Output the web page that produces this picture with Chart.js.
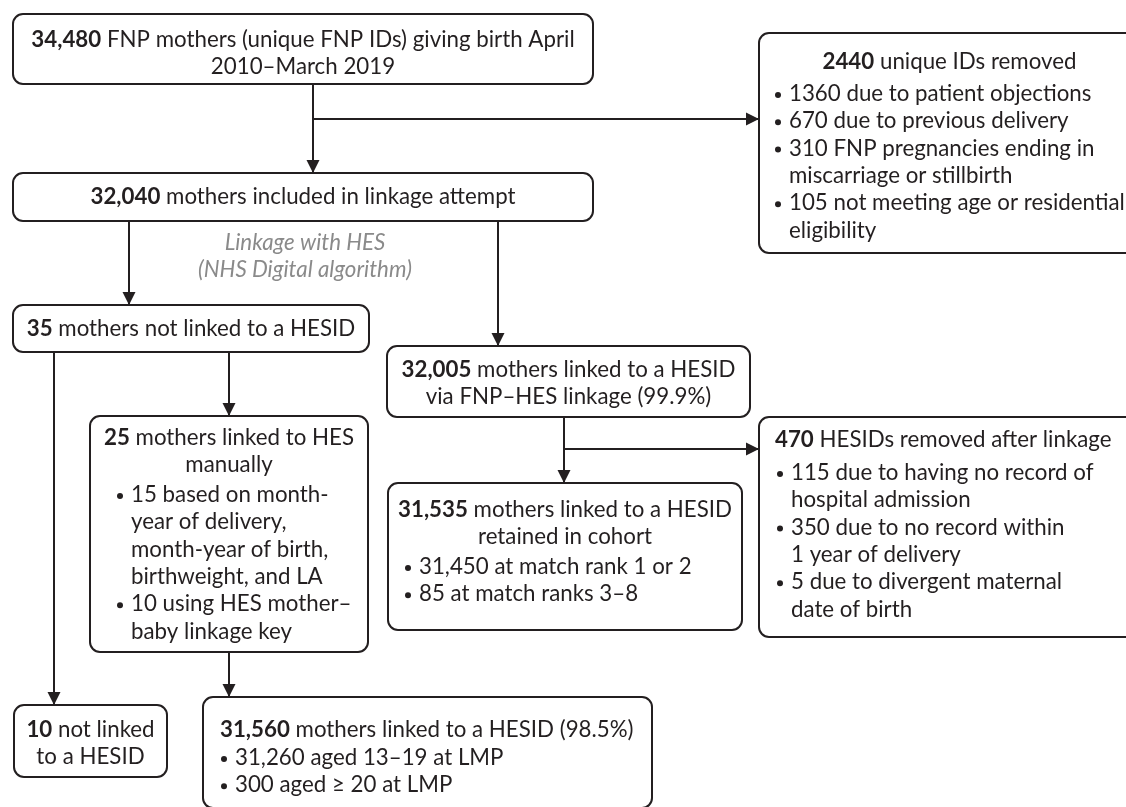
<!DOCTYPE html>
<html>
<head>
<meta charset="utf-8">
<title>FNP–HES linkage flow</title>
<script src="https://cdn.jsdelivr.net/npm/chart.js@4.4.1/dist/chart.umd.min.js"></script>
<style>
  html, body { margin: 0; padding: 0; background: #ffffff; }
  #wrap { width: 1126px; height: 807px; position: relative; }
</style>
</head>
<body>
<div id="wrap"><canvas id="flowChart"></canvas></div>
<script>
// Bold counts at the start of each box
const boxCounts = ['34,480', '2440', '32,040', '35', '32,005', '25', '31,535', '470', '10', '31,560'];

// Heading text following the count (one entry per printed line)
const boxHeads = [
    [' FNP mothers (unique FNP IDs) giving birth April', '2010–March 2019'],
    [' unique IDs removed'],
    [' mothers included in linkage attempt'],
    [' mothers not linked to a HESID'],
    [' mothers linked to a HESID', 'via FNP–HES linkage (99.9%)'],
    [' mothers linked to HES', 'manually'],
    [' mothers linked to a HESID', 'retained in cohort'],
    [' HESIDs removed after linkage'],
    [' not linked', 'to a HESID'],
    [' mothers linked to a HESID (98.5%)']
];

// Bullet items per box (each item may wrap over several lines)
const boxBullets = [
    [],
    [['1360 due to patient objections'], ['670 due to previous delivery'],
     ['310 FNP pregnancies ending in', 'miscarriage or stillbirth'],
     ['105 not meeting age or residential', 'eligibility']],
    [],
    [],
    [],
    [['15 based on month-', 'year of delivery,', 'month-year of birth,', 'birthweight, and LA'],
     ['10 using HES mother–', 'baby linkage key']],
    [['31,450 at match rank 1 or 2'], ['85 at match ranks 3–8']],
    [['115 due to having no record of', 'hospital admission'],
     ['350 due to no record within', '1 year of delivery'],
     ['5 due to divergent maternal', 'date of birth']],
    [],
    [['31,260 aged 13–19 at LMP'], ['300 aged ≥ 20 at LMP']]
];

const linkageNote = ['Linkage with HES', '(NHS Digital algorithm)'];

// Layout in chart units: rect [x0, y0, x1, y1], heading alignment, first line y, bullet text x
const boxLayout = [
    { rect: [13, 14, 593, 84],    align: 'center', y: 40 },
    { rect: [759, 33, 1140, 253], align: 'center', y: 62,  bx: 789, by: 94 },
    { rect: [13, 173, 593, 221],  align: 'center', y: 197 },
    { rect: [13, 305, 369, 352],  align: 'center', y: 329 },
    { rect: [387, 346, 750, 417], align: 'center', y: 370 },
    { rect: [90, 416, 368, 652],  align: 'center', y: 438, bx: 131, by: 495 },
    { rect: [388, 483, 742, 630], align: 'center', y: 510, bx: 419, by: 567 },
    { rect: [759, 417, 1140, 637], align: 'left', x: 775, y: 440, bx: 791, by: 473 },
    { rect: [14, 705, 167, 777],  align: 'center', y: 730 },
    { rect: [203, 697, 652, 808], align: 'left', x: 220, y: 730, bx: 235, by: 758 }
];

// Connectors: polyline points, arrow at the last point
const connectors = [
    [[313, 84], [313, 173]],
    [[313, 119], [759, 119]],
    [[129, 221], [129, 305]],
    [[498, 221], [498, 346]],
    [[229, 352], [229, 416]],
    [[54, 352], [54, 705]],
    [[564, 417], [564, 483]],
    [[564, 449], [759, 449]],
    [[229, 652], [229, 697]]
];

const INK = '#231f20';
const FONT = 'Lato, "Open Sans", sans-serif';
const SIZE = 22.3;
const LINE = 27.3;

function roundRect(ctx, x0, y0, x1, y1, r) {
    ctx.beginPath();
    ctx.moveTo(x0 + r, y0);
    ctx.arcTo(x1, y0, x1, y1, r);
    ctx.arcTo(x1, y1, x0, y1, r);
    ctx.arcTo(x0, y1, x0, y0, r);
    ctx.arcTo(x0, y0, x1, y0, r);
    ctx.closePath();
}

function drawRuns(ctx, runs, x, y, align) {
    // runs: [[text, bold], ...]
    let total = 0;
    runs.forEach(function(r) {
        ctx.font = (r[1] ? 'bold ' : '') + SIZE + 'px ' + FONT;
        total += ctx.measureText(r[0]).width;
    });
    let cx = align === 'center' ? x - total / 2 : x;
    runs.forEach(function(r) {
        ctx.font = (r[1] ? 'bold ' : '') + SIZE + 'px ' + FONT;
        ctx.fillText(r[0], cx, y);
        cx += ctx.measureText(r[0]).width;
    });
}

const flowPlugin = {
    id: 'flowPlugin',
    afterDraw: function(chart) {
        const ctx = chart.ctx;
        const sx = chart.scales.x, sy = chart.scales.y;
        const X = function(v) { return sx.getPixelForValue(v); };
        const Y = function(v) { return sy.getPixelForValue(v); };

        ctx.save();
        ctx.strokeStyle = INK;
        ctx.fillStyle = INK;
        ctx.lineWidth = 2;

        // connectors
        connectors.forEach(function(pts) {
            ctx.beginPath();
            pts.forEach(function(p, i) {
                if (i === 0) ctx.moveTo(X(p[0]), Y(p[1]));
                else ctx.lineTo(X(p[0]), Y(p[1]));
            });
            ctx.stroke();
            const a = pts[pts.length - 2], b = pts[pts.length - 1];
            const ang = Math.atan2(Y(b[1]) - Y(a[1]), X(b[0]) - X(a[0]));
            const tx = X(b[0]), ty = Y(b[1]);
            ctx.save();
            ctx.translate(tx, ty);
            ctx.rotate(ang);
            ctx.beginPath();
            ctx.moveTo(0, 0);
            ctx.lineTo(-13, -6.5);
            ctx.lineTo(-13, 6.5);
            ctx.closePath();
            ctx.fill();
            ctx.restore();
        });

        // boxes
        boxLayout.forEach(function(b, i) {
            const r = b.rect;
            roundRect(ctx, X(r[0]), Y(r[1]), X(r[2]), Y(r[3]), 10);
            ctx.fillStyle = '#ffffff';
            ctx.fill();
            ctx.stroke();
            ctx.fillStyle = INK;
            ctx.textBaseline = 'middle';
            ctx.textAlign = 'left';

            const hx = b.align === 'center' ? X((r[0] + r[2]) / 2) : X(b.x);
            boxHeads[i].forEach(function(line, k) {
                const runs = k === 0 ? [[boxCounts[i], true], [line, false]] : [[line, false]];
                drawRuns(ctx, runs, hx, Y(b.y + k * LINE), b.align);
            });

            let ly = b.by;
            boxBullets[i].forEach(function(item) {
                ctx.beginPath();
                ctx.arc(X(b.bx - 11), Y(ly) + 1, 3, 0, Math.PI * 2);
                ctx.fill();
                item.forEach(function(line) {
                    drawRuns(ctx, [[line, false]], X(b.bx), Y(ly), 'left');
                    ly += LINE;
                });
            });
        });

        // italic note
        ctx.fillStyle = '#8a8a8a';
        ctx.textAlign = 'center';
        ctx.font = 'italic ' + SIZE + 'px ' + FONT;
        linkageNote.forEach(function(t, k) {
            ctx.fillText(t, X(305), Y(243 + k * 27));
        });
        ctx.restore();
    }
};

document.addEventListener('DOMContentLoaded', function() {
    const ctx = document.getElementById('flowChart').getContext('2d');
    new Chart(ctx, {
        type: 'scatter',
        data: { datasets: [{ data: [], showLine: false }] },
        options: {
            responsive: true,
            maintainAspectRatio: false,
            animation: false,
            layout: { padding: 0 },
            plugins: { legend: { display: false }, tooltip: { enabled: false } },
            scales: {
                x: { type: 'linear', min: 0, max: 1126, display: false },
                y: { type: 'linear', min: 0, max: 807, reverse: true, display: false }
            }
        },
        plugins: [flowPlugin]
    });
});
</script>
</body>
</html>
